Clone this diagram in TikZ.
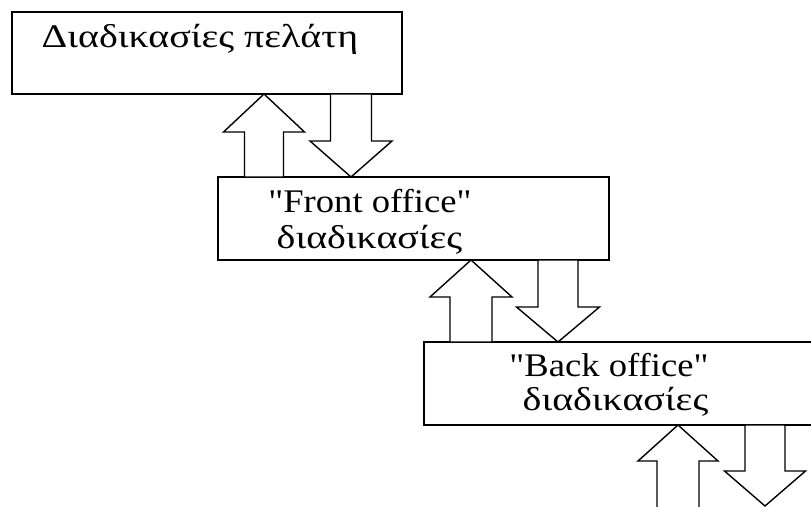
\documentclass[tikz,border=0pt]{standalone}
\usepackage{fontspec}
% plain family: straight quotes stay straight
\newfontfamily\labelfont{Liberation Serif}
\newcommand{\latinline}[1]{\scalebox{1.11}[1]{\fontsize{33}{39}\selectfont #1}}
\newcommand{\greekline}[1]{\scalebox{1.21}[1]{\fontsize{33}{39}\selectfont #1}}
\begin{document}
\begin{tikzpicture}[x=1pt,y=-1pt,
  procbox/.style={draw=black, line width=1.7pt, fill=white},
  txt/.style={anchor=base, inner sep=0pt, font=\labelfont},
  blockarrow/.style={draw=black, line width=1.4pt, fill=white, line join=miter}]
\useasboundingbox (0,0) rectangle (811,506);
\clip (0,0) rectangle (811,506);

% process boxes
\path[procbox] (12,12) rectangle (402,94);
\path[procbox] (218,177) rectangle (609,260);
\path[procbox] (424,342) rectangle (830,425);

% box labels
\node[txt] (t1) at (200,47) {\greekline{Διαδικασίες πελάτη}};
\node[txt] (t2a) at (370,212) {\latinline{"Front office"}};
\node[txt] (t2b) at (369.5,248) {\greekline{διαδικασίες}};
\node[txt] (t3a) at (609,376) {\latinline{"Back office"}};
\node[txt] (t3b) at (615.5,410) {\greekline{διαδικασίες}};

% block arrows between the levels
% #1 tip x, #2 tip y, #3 wing y, #4 half wing, #5 half shaft, #6 shaft end y
\newcommand{\blockarr}[6]{%
  \draw[blockarrow] (#1,#2) -- (#1+#4,#3) -- (#1+#5,#3) -- (#1+#5,#6)
    -- (#1-#5,#6) -- (#1-#5,#3) -- (#1-#4,#3) -- cycle;}

\blockarr{264}{94}{132}{40.5}{19.5}{177}
\blockarr{351}{177}{141}{41}{20.5}{94}
\blockarr{471}{260}{297}{41}{21}{342}
\blockarr{558}{342}{307}{41.5}{20}{260}
\blockarr{678}{425}{461}{40}{21}{512}
\blockarr{765}{506}{471}{40.5}{20}{425}
\end{tikzpicture}
\end{document}
